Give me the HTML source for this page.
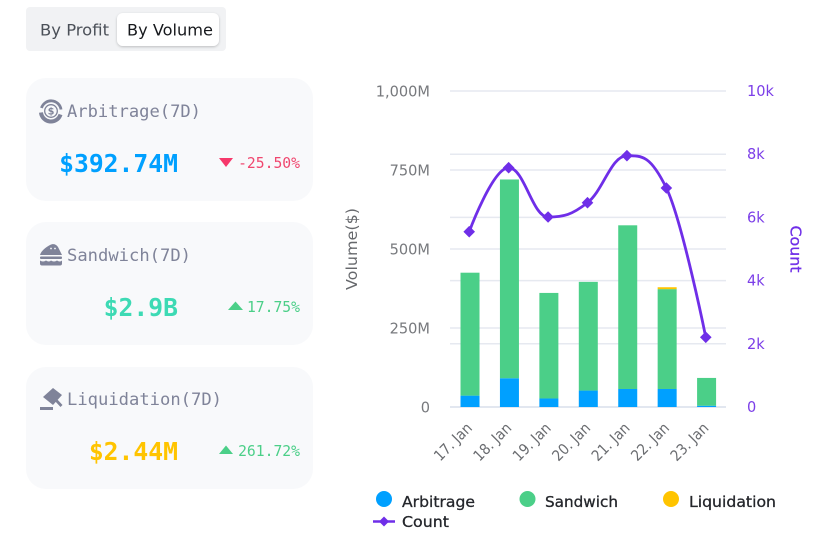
<!DOCTYPE html>
<html lang="en">
<head>
<meta charset="utf-8">
<title>MEV Volume Dashboard</title>
<style>
html,body{margin:0;padding:0;background:#fff;width:819px;height:546px;overflow:hidden}
svg{display:block}
text{font-family:"DejaVu Sans","Liberation Sans",sans-serif}
.mono{font-family:"DejaVu Sans Mono","Liberation Mono",monospace}
</style>
</head>
<body>
<svg id="root" width="819" height="546" viewBox="0 0 819 546" xmlns="http://www.w3.org/2000/svg">
  <defs>
    <filter id="tabShadow" x="-10%" y="-20%" width="120%" height="150%">
      <feDropShadow dx="0" dy="1" stdDeviation="1.2" flood-color="#000" flood-opacity="0.22"/>
    </filter>
  </defs>

  <g>
    <rect x="26" y="7" width="200" height="44" rx="4" fill="#f1f2f4"/>
    <text x="40" y="35.5" font-size="16" fill="#4b5058" textLength="69" lengthAdjust="spacingAndGlyphs">By Profit</text>
    <rect x="117" y="13" width="102" height="33" rx="6" fill="#fff" filter="url(#tabShadow)"/>
    <text x="127" y="35.5" font-size="16" fill="#16181c" textLength="86" lengthAdjust="spacingAndGlyphs">By Volume</text>
  </g>

  <g>
    <rect x="26" y="78" width="287" height="123" rx="20" fill="#f8f9fb"/>
    <g>
      <path d="M41.500 108 A10 10 0 0 1 61 109.500" fill="none" stroke="#7f8399" stroke-width="2.800"/>
      <path d="M60.500 114.500 A10 10 0 0 1 41 112.500" fill="none" stroke="#7f8399" stroke-width="4"/>
      <circle cx="51" cy="111" r="6.300" fill="none" stroke="#7f8399" stroke-width="1.300"/>
      <text x="51" y="114.500" font-size="9.500" font-weight="700" text-anchor="middle" fill="#7f8399">$</text>
    </g>
    <text class="mono" x="67" y="117" font-size="17" fill="#7f8399" textLength="134" lengthAdjust="spacingAndGlyphs">Arbitrage(7D)</text>
    <text class="mono" x="178" y="172" font-size="24.7" font-weight="700" text-anchor="end" fill="#00a0ff">$392.74M</text>
    <path d="M219 158 H233 L226 167 Z" fill="#f6386b"/>
    <text class="mono" x="300" y="168" font-size="14.7" text-anchor="end" fill="#f0476f">-25.50%</text>
  </g>

  <g>
    <rect x="26" y="222" width="287" height="123" rx="20" fill="#f8f9fb"/>
    <g fill="#7f8399">
      <path d="M40 255 C41 251 46 247 50 245 C53 243.500 56 244 58 247 L62 255 Z"/>
      <rect x="40" y="256.500" width="22" height="2.500" rx="1"/>
      <path d="M40 260.500 Q43 262.500 46 260.500 Q49 262.500 51 260.500 Q54 262.500 57 260.500 Q60 262.500 62 260.500 V263.500 Q62 265.500 60 265.500 H42 Q40 265.500 40 263.500 Z"/>
      <circle cx="51" cy="248.500" r="0.900" fill="#f8f9fb"/>
      <circle cx="55" cy="248.500" r="0.900" fill="#f8f9fb"/>
    </g>
    <text class="mono" x="67" y="261" font-size="17" fill="#7f8399" textLength="124" lengthAdjust="spacingAndGlyphs">Sandwich(7D)</text>
    <text class="mono" x="178" y="316" font-size="24.7" font-weight="700" text-anchor="end" fill="#3ddab4">$2.9B</text>
    <path d="M228 310 H243 L235.500 301.500 Z" fill="#4bcf88"/>
    <text class="mono" x="300" y="312" font-size="14.7" text-anchor="end" fill="#4bcf88">17.75%</text>
  </g>

  <g>
    <rect x="26" y="367" width="287" height="122" rx="20" fill="#f8f9fb"/>
    <g fill="#7f8399">
      <path d="M43 397 L53 388 L62 395 L53 405 Z"/>
      <path d="M54 400 L56 398 L62.500 405 L60.500 407 Z"/>
      <rect x="40" y="407" width="13" height="3"/>
    </g>
    <text class="mono" x="67" y="405" font-size="17" fill="#7f8399" textLength="155" lengthAdjust="spacingAndGlyphs">Liquidation(7D)</text>
    <text class="mono" x="178" y="460" font-size="24.7" font-weight="700" text-anchor="end" fill="#ffc400">$2.44M</text>
    <path d="M219 454 H233 L226 445.500 Z" fill="#4bcf88"/>
    <text class="mono" x="300" y="456" font-size="14.7" text-anchor="end" fill="#4bcf88">261.72%</text>
  </g>

  <g id="chart"></g>

  <g>
    <g>
      <circle cx="384" cy="499" r="8" fill="#00a0ff"/>
      <text x="402" y="507" font-size="15.500" fill="#24262b" stroke="#24262b" stroke-width="0.300" textLength="73" lengthAdjust="spacingAndGlyphs">Arbitrage</text>
    </g>
    <g>
      <circle cx="527.500" cy="499" r="8" fill="#4bcf88"/>
      <text x="545" y="507" font-size="15.500" fill="#24262b" stroke="#24262b" stroke-width="0.300" textLength="73" lengthAdjust="spacingAndGlyphs">Sandwich</text>
    </g>
    <g>
      <circle cx="671" cy="499" r="8" fill="#ffc400"/>
      <text x="689" y="507" font-size="15.500" fill="#24262b" stroke="#24262b" stroke-width="0.300" textLength="87" lengthAdjust="spacingAndGlyphs">Liquidation</text>
    </g>
    <g>
      <path d="M373 521.500 H395" stroke="#6f2ee8" stroke-width="2.500" fill="none"/>
      <path d="M384 516.500 L389 521.500 L384 526.500 L379 521.500 Z" fill="#6f2ee8"/>
      <text x="402" y="527" font-size="15.500" fill="#24262b" stroke="#24262b" stroke-width="0.300" textLength="47" lengthAdjust="spacingAndGlyphs">Count</text>
    </g>
  </g>
</svg>

<script>
const categories = ['17. Jan', '18. Jan', '19. Jan', '20. Jan', '21. Jan', '22. Jan', '23. Jan'];
const arbitrageValues = [36, 91, 27, 52, 57, 57, 4];
const sandwichValues = [389, 629, 334, 344, 518, 316, 88];
const liquidationValues = [0, 0, 0, 0, 0, 6, 0];
const countValues = [5547, 7573, 6013, 6465, 7953, 6930, 2206];
const volumeTicks = [0, 250, 500, 750, 1000];
const volumeTickLabels = ['0', '250M', '500M', '750M', '1,000M'];
const countTicks = [0, 2000, 4000, 6000, 8000, 10000];
const countTickLabels = ['0', '2k', '4k', '6k', '8k', '10k'];

const NS = 'http://www.w3.org/2000/svg';
const chart = document.getElementById('chart');
const plotLeft = 450, plotRight = 726, plotTop = 91, plotBottom = 407;
const volumeMax = 1000, countMax = 10000;
const barWidth = 19;

function xCenter(i) { return plotLeft + (i + 0.5) * (plotRight - plotLeft) / categories.length; }
function yVolume(v) { return plotBottom - v / volumeMax * (plotBottom - plotTop); }
function yCount(v) { return plotBottom - v / countMax * (plotBottom - plotTop); }

function make(tag, attrs, text) {
  const el = document.createElementNS(NS, tag);
  for (const k in attrs) el.setAttribute(k, attrs[k]);
  if (text !== undefined) el.textContent = text;
  chart.appendChild(el);
  return el;
}

function condense(el, factor) {
  el.setAttribute('textLength', el.getComputedTextLength() * factor);
  el.setAttribute('lengthAdjust', 'spacingAndGlyphs');
}

volumeTicks.forEach(function (t, i) {
  const y = yVolume(t);
  const line = make('line', { x1: plotLeft, x2: plotRight, y1: y, y2: y, stroke: i === 0 ? '#d8dfec' : '#e6e9f0', 'stroke-width': 1.5 });
  
  
  const label = make('text', { x: 430, y: y + 5.5, 'font-size': 15, 'text-anchor': 'end', fill: '#77797d' }, volumeTickLabels[i]);
  
  
  condense(label, 0.97);
});

countTicks.forEach(function (t, i) {
  const y = yCount(t);
  if (t !== 0 && t !== countMax) {
    const line = make('line', { x1: plotLeft, x2: plotRight, y1: y, y2: y, stroke: '#e6e9f0', 'stroke-width': 1.5 });
    
    
  }
  const label = make('text', { x: 747, y: y + 5, 'font-size': 15, fill: '#7c3fe8' }, countTickLabels[i]);
  
  
  condense(label, 0.97);
});

categories.forEach(function (c, i) {
  const cx = xCenter(i) + 0.3;
  const x = cx - barWidth / 2;
  const a = arbitrageValues[i], s = sandwichValues[i], l = liquidationValues[i];

  const barA = make('rect', { x: x, y: yVolume(a), width: barWidth, height: yVolume(0) - yVolume(a), fill: '#00a0ff' });
  
  

  const barS = make('rect', { x: x, y: yVolume(a + s), width: barWidth, height: yVolume(a) - yVolume(a + s), fill: '#4bcf88' });
  
  

  const barL = make('rect', { x: x, y: yVolume(a + s + l), width: barWidth, height: yVolume(a + s) - yVolume(a + s + l), fill: '#ffc400' });
  
  

  const ax = cx + 3, ay = 429;
  const label = make('text', { x: ax, y: ay, 'font-size': 15, 'text-anchor': 'end', fill: '#6a6c70', transform: 'rotate(-45 ' + ax + ' ' + ay + ')' }, c);
  
  
  condense(label, 0.9);
});

function splinePath(pts) {
  const smoothing = 1.5, denom = smoothing + 1;
  let d = 'M' + pts[0][0] + ' ' + pts[0][1];
  const conts = pts.map(function (p, i) {
    if (i === 0 || i === pts.length - 1) return { lx: p[0], ly: p[1], rx: p[0], ry: p[1] };
    const last = pts[i - 1], next = pts[i + 1];
    const lx = (smoothing * p[0] + last[0]) / denom;
    let ly = (smoothing * p[1] + last[1]) / denom;
    const rx = (smoothing * p[0] + next[0]) / denom;
    let ry = (smoothing * p[1] + next[1]) / denom;
    const correction = ((ry - ly) * (rx - p[0])) / (rx - lx) + p[1] - ry;
    ly += correction;
    ry += correction;
    if (ly > last[1] && ly > p[1]) {
      ly = Math.max(last[1], p[1]);
      ry = 2 * p[1] - ly;
    } else if (ly < last[1] && ly < p[1]) {
      ly = Math.min(last[1], p[1]);
      ry = 2 * p[1] - ly;
    }
    if (ry > next[1] && ry > p[1]) {
      ry = Math.max(next[1], p[1]);
      ly = 2 * p[1] - ry;
    } else if (ry < next[1] && ry < p[1]) {
      ry = Math.min(next[1], p[1]);
      ly = 2 * p[1] - ry;
    }
    return { lx: lx, ly: ly, rx: rx, ry: ry };
  });
  for (let i = 1; i < pts.length; i++) {
    d += ' C' + conts[i - 1].rx + ' ' + conts[i - 1].ry + ' ' + conts[i].lx + ' ' + conts[i].ly + ' ' + pts[i][0] + ' ' + pts[i][1];
  }
  return d;
}

const countPoints = countValues.map(function (v, i) { return [xCenter(i) - 0.5, yCount(v)]; });
const countLine = make('path', { d: splinePath(countPoints), fill: 'none', stroke: '#6f2ee8', 'stroke-width': 2.8 });



countPoints.forEach(function (p) {
  const r = 5.8;
  const marker = make('path', { d: 'M' + p[0] + ' ' + (p[1] - r) + ' L' + (p[0] + r) + ' ' + p[1] + ' L' + p[0] + ' ' + (p[1] + r) + ' L' + (p[0] - r) + ' ' + p[1] + ' Z', fill: '#6f2ee8' });
  
  
});

const leftTitle = make('text', { x: 357, y: 249, 'font-size': 15.5, 'text-anchor': 'middle', fill: '#66686c', transform: 'rotate(-90 357 249)', textLength: 82, lengthAdjust: 'spacingAndGlyphs' }, 'Volume($)');



const rightTitle = make('text', { x: 790.5, y: 249, 'font-size': 15.5, 'text-anchor': 'middle', fill: '#6f2ee8', stroke: '#6f2ee8', 'stroke-width': 0.3, transform: 'rotate(90 790.5 249)', textLength: 47, lengthAdjust: 'spacingAndGlyphs' }, 'Count');


</script>
</body>
</html>
